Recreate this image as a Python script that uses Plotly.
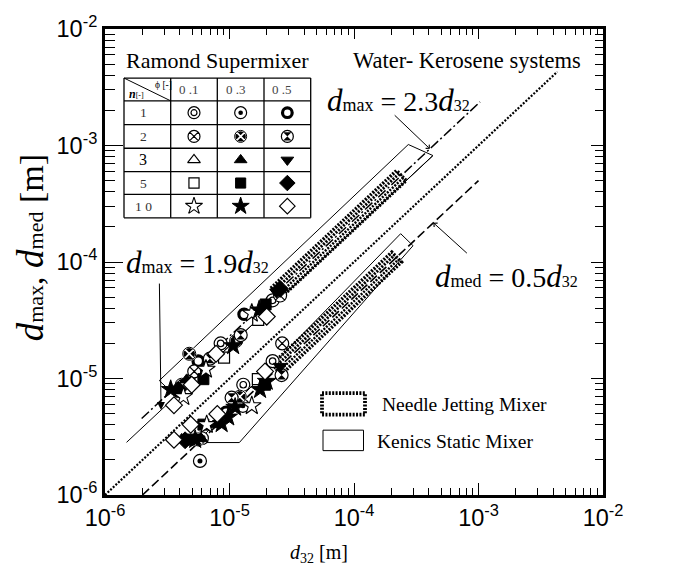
import numpy as np
import plotly.graph_objects as go

# ---------------- measured drop sizes, d32 [m] vs dmax / dmed [m] ----------------
# Ramond Supermixer, water-kerosene; n = number of elements, phi = holdup [-]
n1_phi01_d32 = [2.22e-5, 8.49e-6, 2.22e-5, 1.29e-5, 6.0e-6]
n1_phi01_d = [4.69e-5, 2.00e-5, 1.41e-5, 8.84e-6, 3.07e-6]
n1_phi03_d32 = [5.79e-6, 1.28e-5, 5.79e-6]
n1_phi03_d = [1.18e-5, 5.83e-6, 1.96e-6]
n1_phi05_d32 = [1.31e-5, 5.61e-6, 9.38e-6]
n1_phi05_d = [3.56e-5, 1.41e-5, 5.13e-6]
n2_phi01_d32 = [2.55e-5, 5.21e-6, 2.65e-5]
n2_phi01_d = [5.16e-5, 1.15e-5, 2.00e-5]
n2_phi03_d32 = [1.13e-5, 4.75e-6, 4.13e-6, 1.21e-5, 5.6e-6]
n2_phi03_d = [2.10e-5, 1.63e-5, 8.84e-6, 6.98e-6, 3.0e-6]
n2_phi05_d32 = [1.23e-5, 6.96e-6, 2.62e-5, 1.04e-5]
n2_phi05_d = [2.36e-5, 1.48e-5, 1.07e-5, 6.84e-6]
n3_phi03_d32 = [4.53e-6, 7.66e-6, 4.13e-6, 5.9e-6]
n3_phi03_d = [9.73e-6, 4.02e-6, 3.0e-6, 3.05e-6]
n3_phi05_d32 = [2.39e-5, 2.55e-5, 5.0e-6]
n3_phi05_d = [5.51e-5, 1.27e-5, 3.0e-6]
n5_phi01_d32 = [1.70e-5, 9.04e-6, 1.69e-5]
n5_phi01_d = [3.19e-5, 1.51e-5, 9.87e-6]
n5_phi03_d32 = [1.95e-5, 6.17e-6, 1.93e-5, 6.17e-6, 4.7e-6]
n5_phi03_d = [4.32e-5, 9.87e-6, 8.84e-6, 4.02e-6, 2.99e-6]
n5_phi05_d32 = [2.55e-5, 3.88e-6, 4.4e-6]
n5_phi05_d = [5.87e-5, 8.03e-6, 2.95e-6]
n10_phi01_d32 = [1.51e-5, 6.47e-6, 4.26e-6, 1.51e-5, 6.56e-6]
n10_phi01_d = [3.63e-5, 1.20e-5, 6.98e-6, 5.83e-6, 4.02e-6]
n10_phi03_d32 = [1.73e-5, 1.07e-5, 3.37e-6, 1.99e-5, 1.76e-5, 1.11e-5, 9.77e-6, 8.65e-6, 5.3e-6]
n10_phi03_d = [3.87e-5, 1.91e-5, 8.03e-6, 9.44e-6, 8.03e-6, 5.65e-6, 4.66e-6, 4.09e-6, 2.99e-6]
n10_phi05_d32 = [1.99e-5, 7.80e-6, 4.97e-6, 3.58e-6, 1.93e-5, 7.98e-6, 4.88e-6, 3.58e-6]
n10_phi05_d = [3.40e-5, 1.63e-5, 8.84e-6, 5.90e-6, 1.15e-5, 4.96e-6, 4.02e-6, 2.98e-6]

# correlation lines: d = k * d32
k_dmax_upper = 2.3
k_dmax_lower = 1.9
k_dmed = 0.5
line_equal_d32 = [1e-6, 4.3e-3]
line_dmax_upper_d32 = [1.97e-6, 1.03e-3]
line_dmax_lower_d32 = [1.49e-6, 4.3e-4]
line_dmed_d32 = [2.0e-6, 1.0e-3]

# Kenics static mixer data regions (outline vertices)
kenics_dmax_d32 = [2.73e-6, 2.73e-4, 4.3e-4, 3.71e-6]
kenics_dmax_d = [9.6e-6, 1.02e-3, 8.2e-4, 7.05e-6]
kenics_dmed_d32 = [5.46e-6, 2.37e-4, 2.98e-4, 1.20e-5]
kenics_dmed_d = [2.82e-6, 1.75e-4, 1.38e-4, 2.82e-6]

# Needle jetting mixer data bands (d32 range along each correlation)
njm_dmax_d32 = [2.35e-5, 2.4e-4]
njm_dmed_d32 = [2.4e-5, 2.2e-4]

# table labels
phi_labels = ["0 .1", "0 .3", "0 .5"]
n_labels = ["1", "2", "3", "5", "1 0"]
table_codes = [["A", "B", "C"], ["D", "E", "F"], ["G", "H", "I"],
               ["J", "K", "L"], ["M", "N", "O"]]

axis_ticks = [1e-6, 1e-5, 1e-4, 1e-3, 1e-2]
axis_ticktext = ["10<sup>-6</sup>", "10<sup>-5</sup>", "10<sup>-4</sup>",
                 "10<sup>-3</sup>", "10<sup>-2</sup>"]

# ---------------- figure geometry ----------------
W, H = 674, 570
ML, MR, MT, MB = 105, 71, 17, 75
PW, PH = W - ML - MR, H - MT - MB
PX_DEC_X = PW / 4.0
PX_DEC_Y = PH / 4.0
SERIF = "Liberation Serif, Times New Roman, serif"
SANS = "Liberation Sans, Arial, sans-serif"

# marker layers: (symbol, size, fill, line colour, line width)
STYLES = {
    "A": [("circle", 13, "white", "black", 1.2), ("circle", 6.5, "white", "black", 1.2)],
    "B": [("circle", 13, "white", "black", 1.2), ("circle", 5, "black", "black", 0)],
    "C": [("circle", 10.5, "white", "black", 3.2)],
    "D": [("circle-x", 13, "white", "black", 1.2)],
    "E": [("circle-x", 13, "black", "white", 1.6), ("circle-open", 13, "black", "black", 1)],
    "F": [("circle", 13, "white", "black", 1.2), ("hourglass", 9, "black", "black", 0)],
    "G": [("triangle-up", 12, "white", "black", 1.2)],
    "H": [("triangle-up", 12, "black", "black", 1)],
    "I": [("triangle-down", 12, "black", "black", 1)],
    "J": [("square", 11, "white", "black", 1.2)],
    "K": [("square", 11, "black", "black", 1)],
    "L": [("diamond", 13, "black", "black", 1)],
    "M": [("star", 14, "white", "black", 1.1)],
    "N": [("star", 14, "black", "black", 1)],
    "O": [("diamond", 13, "white", "black", 1.2)],
}

fig = go.Figure()


def add_markers(xs, ys, code, xaxis="x", yaxis="y", scale=1.0):
    for sym, size, fill, lc, lw in STYLES[code]:
        fig.add_trace(go.Scatter(
            x=xs, y=ys, mode="markers", xaxis=xaxis, yaxis=yaxis,
            marker=dict(symbol=sym, size=size * scale, color=fill,
                        line=dict(color=lc, width=lw)),
            hoverinfo="skip", showlegend=False, cliponaxis=False))


def add_line(xs, ys, width, dash):
    fig.add_trace(go.Scatter(x=xs, y=ys, mode="lines",
                             line=dict(color="black", width=width, dash=dash),
                             hoverinfo="skip", showlegend=False))


def band_outline(d32_ends, k, half_px, offset_px=0.0):
    """Rotated rectangle around the line d = k*d32 (screen-perpendicular offsets)."""
    lx = np.log10(np.array(d32_ends, dtype=float))
    ly = lx + np.log10(k)
    ux, uy = PX_DEC_X, -PX_DEC_Y
    norm = np.hypot(ux, uy)
    nx, ny = -uy / norm, ux / norm  # screen normal (right/down)

    def shift(h):
        return lx + h * nx / PX_DEC_X, ly - h * ny / PX_DEC_Y
    if half_px == 0:
        sx, sy = shift(offset_px)
        return 10 ** sx, 10 ** sy
    ax_, ay_ = shift(offset_px - half_px)
    bx_, by_ = shift(offset_px + half_px)
    xs = [ax_[0], ax_[1], bx_[1], bx_[0], ax_[0]]
    ys = [ay_[0], ay_[1], by_[1], by_[0], ay_[0]]
    return 10 ** np.array(xs), 10 ** np.array(ys)


# Kenics regions
for vx, vy in ((kenics_dmax_d32, kenics_dmax_d), (kenics_dmed_d32, kenics_dmed_d)):
    add_line(list(vx) + [vx[0]], list(vy) + [vy[0]], 1, "solid")

# correlation lines
add_line(line_equal_d32, line_equal_d32, 2.2, "2px,1.6px")
add_line(line_dmax_upper_d32, [k_dmax_upper * v for v in line_dmax_upper_d32], 1.5, "10px,3px,2px,3px")
add_line(line_dmax_lower_d32, [k_dmax_lower * v for v in line_dmax_lower_d32], 1, "solid")
add_line(line_dmed_d32, [k_dmed * v for v in line_dmed_d32], 1.6, "9px,4px")

# needle jetting mixer bands
NJM_DASH = "2px,1.4px"
for ends, k in ((njm_dmax_d32, k_dmax_upper), (njm_dmed_d32, k_dmed)):
    bx, by = band_outline(ends, k, 7)
    add_line(bx, by, 3.5, NJM_DASH)
    ix, iy = band_outline(ends, k, 0, -3)
    add_line(ix, iy, 3, NJM_DASH)
    jx, jy = band_outline(ends, k, 0, 3)
    add_line(jx, jy, 2.5, NJM_DASH)

# measured data
series = [
    (n1_phi01_d32, n1_phi01_d, "A"), (n1_phi03_d32, n1_phi03_d, "B"),
    (n1_phi05_d32, n1_phi05_d, "C"), (n2_phi01_d32, n2_phi01_d, "D"),
    (n2_phi03_d32, n2_phi03_d, "E"), (n2_phi05_d32, n2_phi05_d, "F"),
    (n3_phi03_d32, n3_phi03_d, "H"), (n3_phi05_d32, n3_phi05_d, "I"),
    (n5_phi01_d32, n5_phi01_d, "J"), (n5_phi03_d32, n5_phi03_d, "K"),
    (n5_phi05_d32, n5_phi05_d, "L"), (n10_phi01_d32, n10_phi01_d, "M"),
    (n10_phi03_d32, n10_phi03_d, "N"), (n10_phi05_d32, n10_phi05_d, "O"),
]
for xs, ys, code in series:
    add_markers(xs, ys, code)

# dummy trace so the mirrored top/right axes get drawn
fig.add_trace(go.Scatter(x=[1e-4], y=[1e-4], xaxis="x2", yaxis="y2", mode="markers",
                         marker=dict(opacity=0), hoverinfo="skip", showlegend=False))

# ---------------- symbol table (canvas pixel coordinates on x3/y3) ----------------
col_edges = [124, 170.7, 217.3, 264, 310.7]
row_edges = [67.3, 90.7, 115, 139.3, 163.3, 186.7, 210.7]
shapes = []
for cx in col_edges:
    shapes.append(dict(type="line", xref="x3", yref="y3", x0=cx, x1=cx,
                       y0=row_edges[0], y1=row_edges[-1], line=dict(color="black", width=1.3)))
for ry in row_edges:
    shapes.append(dict(type="line", xref="x3", yref="y3", x0=col_edges[0], x1=col_edges[-1],
                       y0=ry, y1=ry, line=dict(color="black", width=1.3)))
shapes.append(dict(type="line", xref="x3", yref="y3", x0=col_edges[0], x1=col_edges[1],
                   y0=row_edges[0], y1=row_edges[1], line=dict(color="black", width=1)))

for i, row in enumerate(table_codes):
    cy = 0.5 * (row_edges[i + 1] + row_edges[i + 2])
    for j, code in enumerate(row):
        cx = 0.5 * (col_edges[j + 1] + col_edges[j + 2])
        add_markers([cx], [cy], code, xaxis="x3", yaxis="y3", scale=0.92)

# legend boxes
shapes.append(dict(type="rect", xref="x3", yref="y3", x0=322, x1=365, y0=390.5, y1=412.5,
                   line=dict(color="black", width=3.8, dash=NJM_DASH)))
shapes.append(dict(type="rect", xref="x3", yref="y3", x0=323, x1=363.5, y0=428.5, y1=449.5,
                   line=dict(color="black", width=1)))

annotations = []


def text(x, y, s, size, xanchor="center", family=SERIF, color="black", angle=0):
    # x, y are canvas pixel positions, converted to paper fractions
    annotations.append(dict(x=(x - ML) / PW, y=(H - MB - y) / PH, xref="paper", yref="paper",
                            text=s, showarrow=False, xanchor=xanchor, yanchor="middle",
                            textangle=angle, font=dict(family=family, size=size, color=color)))


# table headings
text(217.5, 49, "Ramond Supermixer", 22)
text(467, 49, "Water- Kerosene systems", 22.5)
text(163, 74, "\u03d5 [-]", 9.5)
text(136, 84, "<b><i>n</i></b><span style='font-size:8px'>[-]</span>", 12)
for j, lab in enumerate(phi_labels):
    cx = 0.5 * (col_edges[j + 1] + col_edges[j + 2]) - 5
    text(cx, 79, lab, 13, color="#444444")
for i, lab in enumerate(n_labels):
    cy = 0.5 * (row_edges[i + 1] + row_edges[i + 2])
    text(143, cy, lab, 16 if lab == "3" else 13.5, color="#333333" if lab != "3" else "black")

# legend labels
text(380, 402, "Needle Jetting Mixer", 19.5, xanchor="left")
text(375, 440, "Kenics Static Mixer", 19.5, xanchor="left")

# correlation labels
text(398, 90, "<span style='font-size:31px'><i>d</i></span><span style='font-size:18px'>max</span>"
     " = 2.3<span style='font-size:31px'><i>d</i></span><span style='font-size:16px'>32</span>", 28)
text(506, 271, "<span style='font-size:31px'><i>d</i></span><span style='font-size:18px'>med</span>"
     " = 0.5<span style='font-size:31px'><i>d</i></span><span style='font-size:16px'>32</span>", 28)
text(197, 257, "<span style='font-size:31px'><i>d</i></span><span style='font-size:18px'>max</span>"
     " = 1.9<span style='font-size:31px'><i>d</i></span><span style='font-size:16px'>32</span>", 28)

# axis titles
text(319, 555, "<i>d</i><sub>32</sub> [m]", 20)
text(30, 242, "<span style='font-size:37px'><i>d</i></span><span style='font-size:22px'>max</span>, "
     "<span style='font-size:37px'><i>d</i></span><span style='font-size:22px'>med</span> [m]",
     34, angle=-90)

# pointer arrows onto the correlation lines
for d32, k, ax, ay, head, size in ((4.07e-4, k_dmax_upper, -36.7, -35, 4, 1.0),
                                   (4.34e-4, k_dmed, 35, 31.7, 4, 1.0),
                                   (2.82e-6, k_dmax_lower, -1.7, -128, 2, 1.6)):
    annotations.append(dict(x=np.log10(d32), y=np.log10(k * d32), xref="x", yref="y",
                            ax=ax, ay=ay, text="", showarrow=True, arrowhead=head,
                            arrowsize=size, arrowwidth=1, arrowcolor="black"))

minor_vals = [k * 10.0 ** e for e in range(-6, -2) for k in range(2, 10)]


def log_axis(ticklen, minorlen, **kw):
    d = dict(type="log", range=[-6, -2], tickmode="array", tickvals=axis_ticks,
             ticktext=axis_ticktext, ticks="inside", ticklen=ticklen, tickwidth=1,
             tickcolor="black", showgrid=False, zeroline=False, showline=True,
             linecolor="black", linewidth=3,
             tickfont=dict(family=SANS, size=23.5, color="black"),
             minor=dict(tickmode="array", tickvals=minor_vals, ticks="inside",
                        ticklen=minorlen, tickwidth=1, tickcolor="black", showgrid=False))
    d.update(kw)
    return d


fig.update_layout(
    width=W, height=H,
    margin=dict(l=ML, r=MR, t=MT, b=MB, pad=0),
    paper_bgcolor="white", plot_bgcolor="white",
    showlegend=False,
    xaxis=log_axis(12, 7, side="bottom", anchor="y"),
    yaxis=log_axis(18, 10, side="left", anchor="x"),
    xaxis2=log_axis(10, 6, overlaying="x", side="top", anchor="y", showticklabels=False),
    yaxis2=log_axis(12, 8, overlaying="y", side="right", anchor="x", showticklabels=False),
    xaxis3=dict(overlaying="x", anchor="y3", range=[ML, W - MR], visible=False),
    yaxis3=dict(overlaying="y", anchor="x3", range=[H - MB, MT], visible=False),
    shapes=shapes,
    annotations=annotations,
)

fig.write_html("out.html")
